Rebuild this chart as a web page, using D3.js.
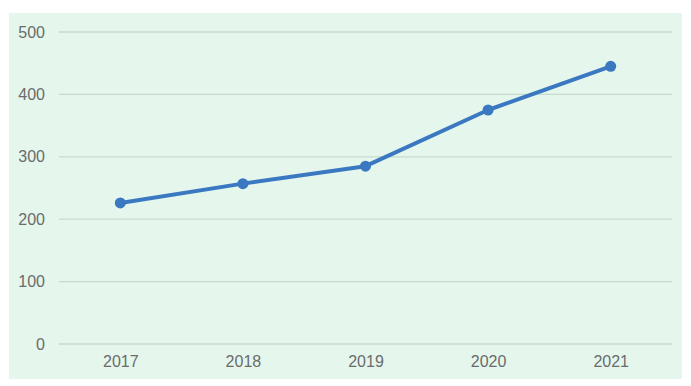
<!DOCTYPE html>
<html><head><meta charset="utf-8">
<script src="https://cdn.jsdelivr.net/npm/d3@7"></script>
<style>body{margin:0;background:#fff;}svg{display:block;}</style>
</head><body>
<svg id="c" width="691" height="386"></svg>
<script>
const years = ["2017","2018","2019","2020","2021"];
const values = [226, 257, 285, 375, 445];
const yTicks = [0,100,200,300,400,500];

const svg = d3.select("#c");
const W = 691, H = 386;
const m = {l:59, r:19, t:32, b:42};
svg.append("rect").attr("x",9).attr("y",13).attr("width",673).attr("height",366).attr("fill","#e5f7ed");

const x = d3.scalePoint().domain(years).range([m.l, W-m.r]).padding(0.5);
const y = d3.scaleLinear().domain([0,500]).range([H-m.b, m.t]);

const g = svg.append("g");
g.selectAll("line.grid").data(yTicks).join("line")
  .attr("x1", m.l).attr("x2", W-m.r)
  .attr("y1", d=>y(d)).attr("y2", d=>y(d))
  .attr("stroke", "#c5dbcd").attr("stroke-width",1.3);

const font = "Liberation Sans, Arial, sans-serif";
const yAxis = svg.append("g").attr("transform",`translate(${m.l-14},0)`)
  .call(d3.axisLeft(y).tickValues(yTicks).tickSize(0).tickPadding(0));
yAxis.select(".domain").remove();
yAxis.selectAll("text").attr("fill","#6b6b6b").style("font-family",font).style("font-size","16px");

const xAxis = svg.append("g").attr("transform",`translate(0,${H-m.b})`)
  .call(d3.axisBottom(x).tickSize(0).tickPadding(12));
xAxis.select(".domain").remove();
xAxis.selectAll("text").attr("fill","#6b6b6b").style("font-family",font).style("font-size","16px");

const line = d3.line().x((d,i)=>x(years[i])).y(d=>y(d));
svg.append("path").datum(values).attr("d", line)
  .attr("fill","none").attr("stroke","#3b78c2").attr("stroke-width",4).attr("stroke-linejoin","round").attr("stroke-linecap","round");
svg.selectAll("circle.pt").data(values).join("circle")
  .attr("cx",(d,i)=>x(years[i])).attr("cy",d=>y(d)).attr("r",5.5).attr("fill","#3b78c2");
</script>
</body></html>
